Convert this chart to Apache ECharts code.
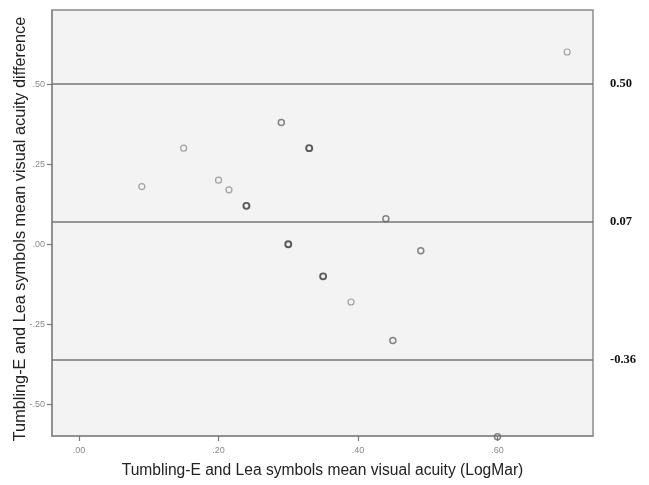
<!DOCTYPE html>
<html>
<head>
<meta charset="utf-8">
<script src="https://cdn.jsdelivr.net/npm/echarts@6/dist/echarts.min.js"></script>
<style>
html,body{margin:0;padding:0;background:#fff;}
#chart{width:649px;height:485px;}
</style>
</head>
<body>
<div id="chart"></div>
<script>
// Mean visual acuity (x), difference (y), overlap count (darker = more overlapping points)
var meanAcuity = [0.09, 0.15, 0.20, 0.215, 0.24, 0.29, 0.33, 0.30, 0.35, 0.44, 0.49, 0.39, 0.45, 0.60, 0.70];
var difference = [0.18, 0.30, 0.20, 0.17, 0.12, 0.38, 0.30, 0.00, -0.10, 0.08, -0.02, -0.18, -0.30, -0.60, 0.60];
var overlap    = [1, 1, 1, 1, 3, 2, 3, 3, 3, 2, 2, 1, 2, 2, 1];
// Limits of agreement and mean difference
var refLines = [0.50, 0.07, -0.36];
var refLabels = ['0.50', '0.07', '-0.36'];
var xTicks = [0, 0.2, 0.4, 0.6];
var yTicks = [-0.5, -0.25, 0, 0.25, 0.5];

function fmt(v){
  var s = Math.abs(v).toFixed(2).replace(/^0/, '');
  return (v < 0 ? '-' : '') + s;
}
var strokeByCount = {1: '#8c8c8c', 2: '#666666', 3: '#333333'};
var widthByCount = {1: 1.2, 2: 1.5, 3: 1.9};

var pts = meanAcuity.map(function(x, i){
  return {
    value: [x, difference[i]],
    itemStyle: {borderColor: strokeByCount[overlap[i]], borderWidth: widthByCount[overlap[i]]}
  };
});

var chart = echarts.init(document.getElementById('chart'), null, {renderer: 'canvas'});
chart.setOption({
  animation: false,
  grid: {left: 52, top: 10, right: 56, bottom: 49, outerBoundsMode: 'none', containLabel: false, show: true, backgroundColor: '#f3f3f3', borderColor: '#8a8a8a', borderWidth: 1.5},
  xAxis: {
    type: 'value', min: -0.0388, max: 0.737,
    name: 'Tumbling-E and Lea symbols mean visual acuity (LogMar)',
    nameLocation: 'middle', nameGap: 27, nameMoveOverlap: false,
    nameTextStyle: {fontFamily: 'Liberation Sans, Arial, sans-serif', fontSize: 15.6, color: '#222'},
    axisLine: {show: true, onZero: false, lineStyle: {color: '#8a8a8a', width: 1.5}},
    splitLine: {show: false},
    axisTick: {show: true, length: 5, customValues: xTicks, lineStyle: {color: '#777', width: 1.2}},
    axisLabel: {customValues: xTicks, formatter: fmt, color: '#888', fontSize: 9, fontFamily: 'Liberation Sans, Arial, sans-serif', margin: 10}
  },
  yAxis: {
    type: 'value', min: -0.598, max: 0.731,
    name: 'Tumbling-E and Lea symbols mean visual acuity difference',
    nameLocation: 'middle', nameGap: 23, nameMoveOverlap: false,
    nameTextStyle: {fontFamily: 'Liberation Sans, Arial, sans-serif', fontSize: 16.3, color: '#222', padding: [0, 12, 0, 0]},
    axisLine: {show: true, onZero: false, lineStyle: {color: '#8a8a8a', width: 1.5}},
    splitLine: {show: false},
    axisTick: {show: true, length: 5, customValues: yTicks, lineStyle: {color: '#777', width: 1.2}},
    axisLabel: {customValues: yTicks, formatter: fmt, color: '#888', fontSize: 9, fontFamily: 'Liberation Sans, Arial, sans-serif', margin: 7}
  },
  series: [{
    type: 'scatter',
    symbol: 'circle',
    symbolSize: 6,
    clip: false,
    z: 5,
    itemStyle: {color: 'rgba(0,0,0,0)'},
    data: pts,
    markLine: {
      silent: true,
      symbol: ['none', 'none'],
      lineStyle: {type: 'solid', color: '#777', width: 1.5},
      label: {
        show: true, position: 'end', distance: 17,
        fontFamily: 'Liberation Serif, Times New Roman, serif', fontWeight: 'bold', fontSize: 12.5, color: '#111'
      },
      data: refLines.map(function(v, i){
        return {yAxis: v, label: {formatter: refLabels[i]}};
      })
    }
  }]
});
</script>
</body>
</html>
